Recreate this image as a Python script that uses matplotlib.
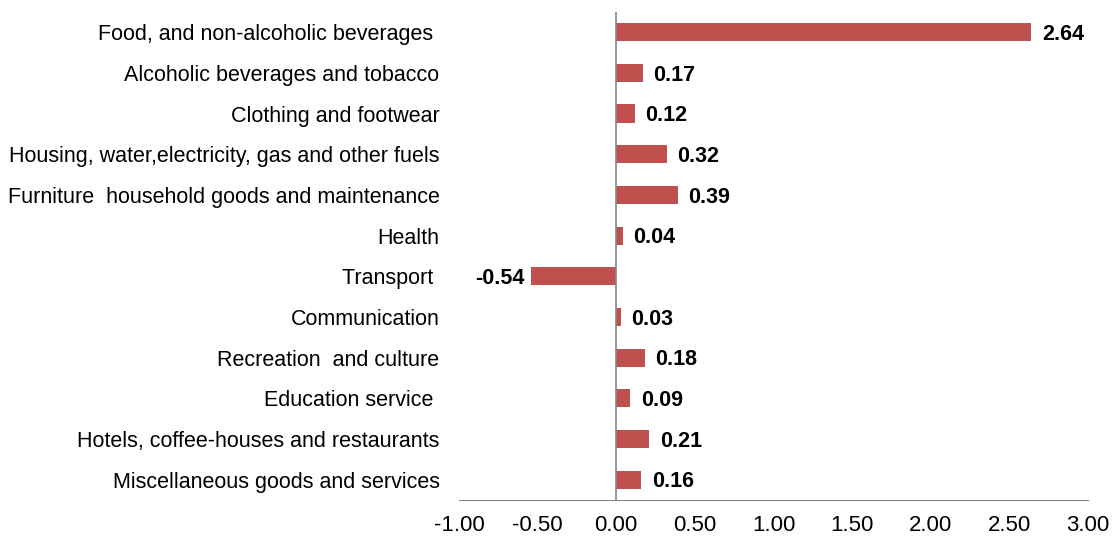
import matplotlib.pyplot as plt

plt.rcParams['font.family'] = ['Liberation Sans', 'DejaVu Sans']

categorias = [
    "Food, and non-alcoholic beverages ",
    "Alcoholic beverages and tobacco",
    "Clothing and footwear",
    "Housing, water,electricity, gas and other fuels",
    "Furniture  household goods and maintenance",
    "Health",
    "Transport ",
    "Communication",
    "Recreation  and culture",
    "Education service ",
    "Hotels, coffee-houses and restaurants",
    "Miscellaneous goods and services",
]
valores = [2.64, 0.17, 0.12, 0.32, 0.39, 0.04, -0.54, 0.03, 0.18, 0.09, 0.21, 0.16]
xticks = [-1.0, -0.5, 0.0, 0.5, 1.0, 1.5, 2.0, 2.5, 3.0]

fig = plt.figure(figsize=(11.13, 5.37), dpi=100)
ax = fig.add_axes([0.4124, 0.0689, 0.5651, 0.9088])

pos = list(range(len(categorias)))
ax.barh(pos, valores, height=0.45, color="#C0504D")

# etiquetas de valor ao lado das barras
for y, v in zip(pos, valores):
    if v >= 0:
        ax.annotate(f"{v:.2f}", (v, y), xytext=(7.5, -1.5), textcoords="offset points",
                    ha="left", va="center", fontsize=15.5, fontweight="bold")
    else:
        ax.annotate(f"{v:.2f}", (v, y), xytext=(-5, -1.5), textcoords="offset points",
                    ha="right", va="center", fontsize=15.5, fontweight="bold")

ax.set_xlim(-1.0, 3.0)
ax.set_ylim(len(categorias) - 0.5, -0.5)
ax.set_xticks(xticks)
ax.set_xticklabels([f"{t:.2f}" for t in xticks], fontsize=16)
ax.set_yticks(pos)
ax.set_yticklabels(categorias, fontsize=15.5)
ax.tick_params(axis="both", length=0)
ax.tick_params(axis="y", pad=14)
ax.tick_params(axis="x", pad=11)

for s in ["top", "right", "left"]:
    ax.spines[s].set_visible(False)
ax.spines["bottom"].set_color("#868686")
ax.axvline(0, color="#868686", linewidth=1.2)

fig.savefig("out.png", dpi=100)
